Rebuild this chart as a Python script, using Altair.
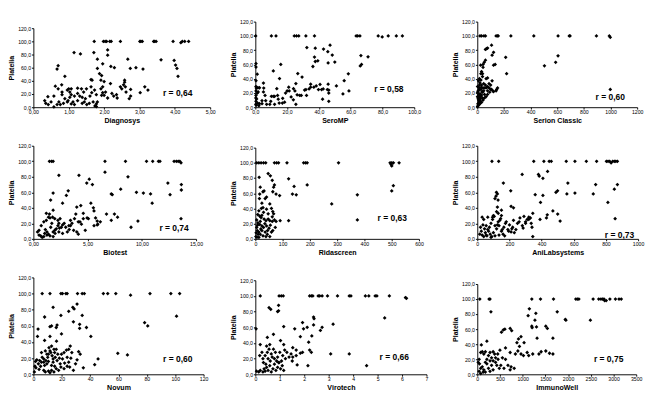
import altair as alt
import pandas as pd

FONT = "Liberation Sans"

# ---------------- data (x, Platelia) ----------------
diag_pts = [(1.72,100),(1.98,100),(2.03,100),(2.07,100),(2.16,100),(2.20,100),(2.46,100),(3.01,100),(3.04,100),(3.08,100),
    (3.40,100),(3.43,100),(3.47,100),(3.95,100),(4.17,98),(4.21,100),(4.28,100),(4.39,100),
    (1.15,83),(1.33,81),(1.71,83),(2.10,87),(2.10,79),(1.81,73),(1.96,66),(1.81,59),(1.87,51),(1.93,48),(2.19,62),(2.29,60),
    (2.67,73),(2.90,60),(2.74,59),(3.10,58),(3.61,72),(3.98,71),(4.02,64),(4.06,59),(4.09,47),(0.67,58),(0.70,63),(0.62,32),
    (0.70,28),(0.80,34),(0.89,47),(1.00,28),(1.07,28),(0.96,26),(1.03,23),(0.81,23),(0.58,17),(0.41,16),(0.50,8),(0.32,10),
    (0.35,6),(0.42,4),(0.58,0.5),(0.72,8),(0.85,6),(0.96,8),(1.07,5),(1.16,4),(1.25,10),(1.31,17),(1.38,6),(1.51,4),(1.60,17),
    (1.65,22),(1.63,31),(1.63,42),(1.66,41),(1.73,26),(1.78,19),(1.81,8),(1.69,8),(1.78,5),(1.58,6),(1.47,13),(1.38,15),
    (1.16,17),(1.25,29),(1.36,28),(1.42,23),(1.50,28),(1.25,21),(1.03,15),(0.89,13),(0.81,19),(1.07,19),(1.91,41),(1.96,31),
    (1.91,28),(1.96,22),(1.93,18),(2.04,23),(2.00,18),(2.10,14),(2.22,21),(2.27,17),(2.35,19),(2.37,14),(2.46,31),(2.50,28),
    (2.55,34),(2.58,41),(2.58,38),(2.60,31),(2.62,23),(2.71,13),(2.75,17),(2.75,27),(3.02,22),(3.15,31),(3.24,26),(2.18,36),
    (2.00,39),(0.98,10),(1.12,8),(1.44,8),(0.67,4),(0.76,4),(1.74,2),(1.78,1)]

sero_pts = [(0.2,100),(10.1,100),(13.0,100),(24.5,100),(25.9,100),(27.3,100),(31.8,100),(37.2,100),(63.4,100),(64.4,100),
    (65.8,100),(77.3,100),(79.8,98.5),(83.6,100),(88.7,100),(92.5,100),
    (32.4,83.6),(47.0,86.9),(37.7,82.7),(42.9,81.5),(45.6,77.8),(48.4,73.2),(37.2,70.3),(37.7,64.1),(39.3,65.0),(36.2,57.1),
    (45.8,62.1),(50.0,63.3),(70.9,70.7),(66.4,72.4),(66.8,60.0),(66.0,57.9),(16.0,60.0),(11.3,50.9),(15.2,40.1),(26.7,47.2),
    (29.4,42.2),(0.4,61.2),(0.4,56.3),(1.2,46.3),(0.4,37.2),(0.4,29.0),(0.6,26.9),(1.6,27.3),(2.6,27.3),(0.4,22.8),(0.4,16.5),
    (1.2,19.9),(1.8,21.5),(5.1,21.5),(5.3,26.9),(5.1,33.9),(6.1,16.5),(0.8,11.6),(0.4,8.3),(1.4,5.8),(2.6,5.0),(4.2,5.0),
    (0.6,2.9),(2.2,2.1),(7.1,4.1),(9.1,4.1),(6.5,9.1),(10.1,15.3),(11.3,15.3),(12.1,15.3),(14.0,16.5),(14.4,11.2),(15.0,5.8),
    (17.0,5.8),(18.4,7.0),(17.2,12.4),(19.0,19.9),(20.0,22.8),(21.0,28.1),(21.3,22.8),(22.5,14.5),(23.9,10.3),(25.5,4.1),
    (24.9,22.8),(25.5,33.1),(26.3,17.4),(27.9,16.5),(28.9,16.5),(31.8,24.8),(32.2,16.5),(33.8,25.7),(34.8,28.1),(34.8,32.3),
    (36.8,28.1),(38.3,29.8),(39.7,24.8),(40.7,31.9),(41.7,24.8),(42.7,25.7),(45.3,24.8),(45.8,32.3),(46.2,24.0),(46.2,19.9),
    (46.2,8.3),(42.3,11.2),(51.0,29.8),(55.1,18.6),(55.9,37.2),(58.5,46.8),(58.9,22.8),(12.1,4.1),(9.7,8.3),(4.2,9.1),
    (0.3,13),(0.3,4),(13.5,26),(24,26),(31,24)]

serion_pts = [(20,100),(32,100),(50,100),(61,100),(141,100),(150,100),(157,100),(252,100),(424,100),(606,100),(690,100),
    (696,100),(894,100),(991,100),(998,98),
    (70,82),(77,83),(61,81),(107,87),(122,77),(111,73),(213,70),(134,60),(122,59),(61,66),(52,63),(43,60),(25,59),(43,56),
    (32,50),(27,47),(39,47),(220,47),(606,72),(588,63),(504,58),(998,25),
    (9,3),(5,5),(14,7),(20,9),(9,11),(16,13),(25,15),(32,17),(11,18),(20,19),(39,21),(48,23),(27,25),(14,27),(43,27),(54,27),
    (66,27),(77,29),(88,27),(100,25),(16,31),(32,31),(20,34),(48,33),(61,31),(9,37),(27,38),(111,37),(16,40),(66,40),(77,41),
    (39,43),(107,25),(116,23),(77,23),(93,21),(122,22),(145,25),(152,27),(141,23),(32,7),(43,10),(54,13),(66,15),(77,18),
    (54,18),(39,13),(2,1),(7,3),(16,4),(25,6),(11,9),(2,15),(2,21),(7,23),(2,29),(88,33),(100,31),(12,24),(30,28),(24,12),
    (36,22),(5,13),(18,16)]

biotest_pts = [(1.48,100),(1.68,100),(1.82,100),(6.60,100),(8.49,100),(10.43,100),(11.0,100),(11.53,100),(11.67,100),
    (12.97,100),(13.18,100),(13.35,100),(13.61,98),(13.5,100),
    (6.60,86),(2.35,82),(4.20,82),(8.72,80),(5.15,77),(4.92,72),(5.44,70),(12.4,72),(13.64,70),(13.64,63),(12.6,57),(8.05,64),
    (7.18,58),(7.27,57),(9.50,60),(10.14,59),(10.8,58),(10.95,46),(3.21,62),(3.04,56),(1.82,59),(1.59,50),(1.82,37),(2.69,46),
    (5.30,46),(5.53,40),(5.59,36),(4.37,43),(4.00,41),(5.73,27),(5.88,23),(5.94,19),(5.59,17),(4.95,27),(5.07,26),(4.60,26),
    (4.43,19),(4.29,22),(4.14,22),(3.79,26),(3.91,32),(3.56,20),(3.42,17),(3.42,24),(3.27,17),(2.84,20),(2.98,15),(2.58,15),
    (2.69,18),(2.40,14),(2.26,17),(2.26,24),(1.97,26),(1.77,28),(1.53,27),(1.39,28),(1.48,32),(1.19,33),(1.19,24),(0.96,22),
    (0.72,17),(0.52,11),(0.38,9),(0.52,5),(0.67,4),(0.81,2),(0.96,3),(1.04,7),(1.25,9),(1.25,5),(1.39,6),(1.53,4),(1.82,3),
    (1.82,9),(1.97,11),(2.11,13),(2.35,9),(2.69,7),(3.13,9),(3.71,11),(4.00,9),(4.14,6),(4.78,11),(6.74,32),(7.18,24),
    (7.47,32),(7.76,28),(5.88,18),(6.17,22),(9.0,15),(9.64,23),(13.61,26),(2.35,20),(2.46,26),(1.6,15),(1.1,12),(1.7,20),
    (2.0,7),(3.3,12),(4.6,33)]

rida_pts = [(5,100),(13,100),(21,100),(30,100),(38,100),(70,100),(78,100),(85,100),(116,100),(177,100),(184,100),(190,100),
    (305,100),(494,100),(500,100),(506,100),(527,100),(500,96),(498,98),
    (14,81),(47,86),(55,83),(62,77),(70,71),(67,68),(64,62),(76,59),(89,57),(122,79),(142,69),(136,59),(150,58),(190,71),
    (506,70),(500,63),(374,58),(280,46),(374,25),(122,24),(91,24),(73,15),(18,68),(16,59),(15,53),(24,47),(36,53),(41,55),
    (28,62),(32,63),(53,46),(59,40),(64,36),(67,33),(47,33),(28,41),(22,40),(13,37),(9,32),(16,30),(24,31),(32,26),(39,24),
    (47,26),(53,24),(62,23),(70,25),(76,23),(62,29),(5,25),(9,21),(16,19),(24,17),(30,15),(41,17),(50,14),(5,15),(7,11),
    (13,9),(18,6),(28,4),(2,3),(6,2),(13,2),(36,9),(44,6),(53,3),(39,3),(59,9),(64,11),(24,11),(18,23),(21,28),(30,35),
    (41,39),(10,6),(20,13),(35,20),(45,11),(8,18),(3,8),(55,18)]

anilab_pts = [(91,100),(133,100),(351,100),(414,100),(447,100),(460,100),(553,100),(607,100),(678,100),(742,100),(803,100),
    (813,100),(823,100),(832,98),(842,100),(852,100),(861,100),(871,100),
    (279,83),(380,83),(385,81),(408,78),(437,87),(162,72),(563,72),(736,70),(871,70),(208,62),(119,60),(125,58),(116,55),
    (110,52),(129,50),(408,56),(499,62),(489,60),(557,58),(607,59),(721,58),(852,64),(812,47),(857,26),(393,47),(360,57),
    (210,42),(225,40),(390,25),(430,27),(435,31),(470,36),(500,32),(515,23),(345,33),
    (30,28),(40,25),(30,5),(40,3),(50,8),(60,4),(70,10),(80,6),(90,3),(100,8),(45,13),(55,17),(65,12),(75,15),(85,20),
    (95,25),(95,28),(100,30),(105,29),(110,17),(120,13),(125,18),(130,22),(130,33),(135,17),(140,24),(145,26),(150,37),
    (150,10),(160,6),(165,15),(170,4),(175,20),(180,22),(190,12),(200,18),(210,9),(215,13),(220,15),(225,24),(230,8),
    (240,12),(250,20),(260,22),(280,17),(285,14),(290,29),(300,22),(310,25),(320,28),(330,27),(335,20),(340,15),(345,3),
    (150,30),(120,35),(125,41),(65,28),(20,15),(25,10),(35,18),(15,6),(55,5),(85,2),(110,4),(135,5),(155,12),(195,10),
    (265,27),(300,20),(320,25)]

novum_pts = [(6.2,100),(11.7,100),(19.4,100),(20.5,100),(22.9,100),(23.8,100),(31.1,100),(34.4,100),(35.9,100),(49.3,100),
    (52.4,100),(58.1,100),(68.5,98),(82.2,100),(96.9,100),(103.1,100),
    (30.8,87),(13.9,83),(27.8,83),(28.7,81),(24.9,78),(7.9,71),(34.4,73),(19.4,73),(37.4,58),(32.6,57),(28.2,65),(32.6,62),
    (16.7,61),(16.1,58),(12.8,60),(11.7,59),(3.3,56),(2.9,47),(11.7,47),(19.8,50),(40.5,47),(7.9,42),(16.3,41),(59.5,26),
    (66.3,24),(45.6,19),(43.2,12),(78.4,64),(80.6,60),(100.9,72),(35.2,8),(28.2,5),(25.6,9),
    (0.7,3),(1.1,10),(1.8,8),(1.5,16),(2.4,18),(4,6),(5.7,27),(5.7,15),(6.2,21),(7.3,19),(7.3,15),(8.4,29),(8.8,17),(9.5,25),
    (9.5,13),(10.1,21),(10.6,25),(10.6,16),(11,33),(11.7,29),(12.3,27),(12.8,35),(13.2,23),(13.9,19),(13.9,15),(14.5,31),
    (15,27),(15.4,21),(16.1,31),(16.7,17),(17.2,25),(18.3,20),(18.9,13),(19.8,25),(20.5,19),(21.6,27),(22,14),(23.3,30),
    (23.8,21),(24.9,31),(26,35),(27.1,27),(26.4,20),(29.7,13),(30.8,18),(31.9,28),(33,25),(7.3,5),(8.4,3),(10.6,4),(11.7,2),
    (12.8,5),(14.5,3),(16.1,7),(17.8,5),(19.4,9),(21.6,7),(3.5,13),(4.4,17),(5.1,10),(7.9,11),(23.8,10),(24.9,15),(12.8,11),
    (15,10)]

viro_pts = [(0.20,100),(0.97,100),(1.06,100),(1.14,100),(2.22,100),(2.29,100),(2.35,100),(2.57,100),(2.63,100),(2.73,100),
    (2.95,100),(3.36,100),(3.84,100),(3.91,100),(4.50,100),(4.64,100),(4.90,100),(4.97,100),(5.48,100),(6.14,98),(6.18,97),
    (0.95,88),(0.56,85),(0.63,83),(0.95,81),(0.91,80),(0.03,58),(2.38,73),(2.40,71),(5.29,72),(2.38,63),(3.18,64),(1.93,66),
    (1.97,58),(2.12,60),(2.73,60),(2.66,56),(1.16,61),(1.61,58),(0.74,51),(0.49,47),(1.84,48),(2.31,49),(2.18,41),(1.16,38),
    (1.03,43),(0.20,38),(3.08,26),(3.84,26),(4.55,11),(2.15,11),(1.71,12),(1.67,24),(1.84,27),(1.93,28),(2.29,28),(2.22,31),
    (1.67,31),(1.53,34),
    (0.05,4),(0.14,3),(0.20,5),(0.31,3),(0.36,7),(0.40,4),(0.46,9),(0.52,5),(0.59,11),(0.65,3),(0.72,7),(0.78,13),(0.84,5),
    (0.91,9),(0.97,15),(1.03,7),(1.10,11),(1.16,5),(0.27,28),(0.33,15),(0.40,24),(0.43,13),(0.49,28),(0.52,20),(0.56,32),
    (0.61,17),(0.65,26),(0.69,22),(0.74,32),(0.78,20),(0.82,28),(0.87,17),(0.91,22),(0.95,15),(1.00,28),(1.07,17),(1.12,24),
    (1.20,31),(1.23,20),(1.29,28),(1.38,22),(1.46,26),(1.51,17),(1.53,22),(0.46,36),(0.59,38),(0.31,20),(0.18,24)]

immuno_pts = [(55,100),(259,100),(280,100),(1200,100),(1392,100),(1678,100),(2169,100),(2203,100),(2237,100),(2551,100),
    (2674,100),(2722,100),(2760,100),(2790,100),(2803,98),(2838,98),(2920,100),(3042,100),(3120,100),(3170,100),
    (300,83),(1146,87),(1119,78),(1289,81),(1760,83),(1937,73),(1951,72),(2490,72),(1269,72),(1303,63),(1200,64),(1508,64),
    (1542,61),(1207,62),(723,61),(573,59),(607,60),(532,56),(757,58),(1316,48),(1665,48),(962,50),(907,47),(928,37),
    (1030,42),(873,42),(89,39),(211,44),(621,35),(723,29),(839,27),(893,31),(962,27),(1016,25),(1098,29),(1132,25),
    (1221,27),(1357,27),(1405,30),(1508,31),(1590,28),(1665,27),(553,22),(621,20),(675,12),(743,10),(812,8),(587,8),
    (518,12),(723,6),(75,29),(41,20),(20,16),(48,14),(75,8),(109,10),(143,6),(177,16),(211,20),(246,25),(280,29),(314,22),
    (348,18),(382,27),(402,16),(430,12),(457,20),(484,8),(109,30),(143,27),(177,30),(211,14),(246,8),(280,4),(314,12),
    (348,6),(130,3),(177,3),(75,1),(41,4),(280,18),(348,30),(450,27),(498,32),(402,22)]

# panel names, r-values and label positions
names = ["Diagnosys", "SeroMP", "Serion Classic", "Biotest", "Ridascreen", "AniLabsystems", "Novum", "Virotech", "ImmunoWell"]
r_texts = ["r = 0,64", "r = 0,58", "r = 0,60", "r = 0,74", "r = 0,63", "r = 0,73", "r = 0,60", "r = 0,66", "r = 0,75"]
r_pos = [(4.08, 21), (84, 25), (998, 14), (12.97, 14), (502, 27), (884, 5), (101.8, 19), (5.68, 22), (2892, 20)]
x_max = [5, 100, 1200, 15, 600, 1000, 120, 7, 3500]
x_ticks = [[0, 1, 2, 3, 4, 5], [0, 20, 40, 60, 80, 100], [0, 200, 400, 600, 800, 1000, 1200], [0, 5, 10, 15],
           [0, 100, 200, 300, 400, 500, 600], [0, 200, 400, 600, 800, 1000], [0, 20, 40, 60, 80, 100, 120],
           [0, 1, 2, 3, 4, 5, 6, 7], [0, 500, 1000, 1500, 2000, 2500, 3000, 3500]]
x_fmt = [".2f", ".1f", "d", ".2f", "d", "d", "d", "d", "d"]
y_ticks = [0, 20, 40, 60, 80, 100, 120]
all_pts = [diag_pts, sero_pts, serion_pts, biotest_pts, rida_pts, anilab_pts, novum_pts, viro_pts, immuno_pts]

# layout (pixels)
W = 190
row_H = [91, 99, 103]
plot_w = [188, 169, 170, 173, 174, 171, 181, 182, 169]
plot_h = [84, 91, 91, 99, 97, 99, 103, 100, 96]


def label_expr(spec):
    if spec == "d":
        return "format(datum.value, 'd')"
    return "replace(format(datum.value, '" + spec + "'), '.', ',')"


panels = []
for i in range(9):
    H = row_H[i // 3]
    df = pd.DataFrame(all_pts[i], columns=["x", "y"])
    xs = alt.Scale(domain=[0, x_max[i]], range=[0, plot_w[i]], nice=False, zero=True)
    ys = alt.Scale(domain=[0, 120], range=[H, H - plot_h[i]], nice=False, zero=True)
    x_axis = alt.Axis(values=x_ticks[i], labelExpr=label_expr(x_fmt[i]), title=names[i])
    y_axis = alt.Axis(values=y_ticks, labelExpr=label_expr(".1f"), title="Platelia")
    pts = alt.Chart(df).mark_point(shape="diamond", filled=True, color="black", size=16, opacity=1).encode(
        x=alt.X("x:Q", scale=xs, axis=x_axis),
        y=alt.Y("y:Q", scale=ys, axis=y_axis),
    )
    tdf = pd.DataFrame({"x": [r_pos[i][0]], "y": [r_pos[i][1]], "t": [r_texts[i]]})
    txt = alt.Chart(tdf).mark_text(font=FONT, fontSize=9, fontWeight="bold", color="black",
                                   align="center", baseline="middle").encode(
        x=alt.X("x:Q", scale=xs, axis=x_axis),
        y=alt.Y("y:Q", scale=ys, axis=y_axis),
        text="t:N",
    )
    panels.append(alt.layer(pts, txt).properties(width=W, height=H))

chart = alt.concat(*panels, columns=3, bounds="flush", align="each",
                   spacing={"row": 41, "column": 46}).properties(
    padding={"left": 0, "top": 0, "right": 0, "bottom": 0}
).configure_view(stroke=None).configure_axis(
    grid=False, domainColor="black", domainWidth=1, tickColor="black", tickSize=2, tickWidth=1,
    labelFont=FONT, labelFontSize=5.5, labelColor="black", labelPadding=1, labelFlush=False, labelOverlap=False,
    titleFont=FONT, titleFontSize=7.5, titleFontWeight="bold", titleColor="black", titlePadding=2,
)

chart.save("out.html", embed_options={"renderer": "svg", "actions": False})
